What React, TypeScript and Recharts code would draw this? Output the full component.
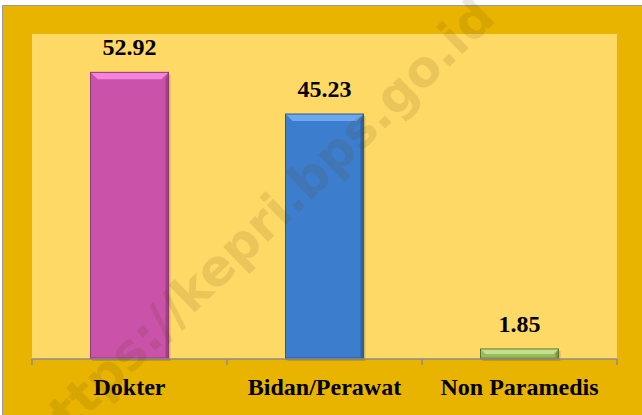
import { BarChart, Bar, XAxis, YAxis, CartesianGrid, Cell, LabelList } from "recharts";

const categories = ["Dokter", "Bidan/Perawat", "Non Paramedis"];
const shares = [52.92, 45.23, 1.85];
const yDomain = [0, 60];

const chartData = categories.map((name, i) => ({ name, value: shares[i] }));

const barColors = [
  { main: "#CB52A9", light: "#F384DC", dark: "#A23F87", edge: "#8E3A78" },
  { main: "#3C7ECD", light: "#6DA8EE", dark: "#2F63A6", edge: "#2C5A93" },
  { main: "#9BBB59", light: "#C3E08A", dark: "#7A9444", edge: "#5F7536" },
];

const serif = "'Liberation Serif', 'Times New Roman', serif";

function BevelBar(props: any) {
  const { x, y, width, height, index } = props;
  const c = barColors[index % barColors.length];
  const b = Math.min(7, height / 2);
  return (
    <g>
      <rect x={x + 2} y={y + 2} width={width} height={height} fill="rgba(0,0,0,0.15)" />
      <rect x={x} y={y} width={width} height={height} fill={c.main} />
      <polygon
        points={`${x},${y} ${x + width},${y} ${x + width - b},${y + b} ${x + b},${y + b}`}
        fill={c.light}
      />
      <polygon
        points={`${x + width},${y} ${x + width},${y + height} ${x + width - 3},${y + height} ${x + width - 3},${y + b}`}
        fill={c.dark}
      />
      <rect x={x} y={y + height - 2} width={width} height={2} fill={c.dark} opacity={0.6} />
      <rect x={x} y={y} width={width} height={height} fill="none" stroke={c.edge} strokeWidth={1} />
    </g>
  );
}

function CategoryTick(props: any) {
  const { x, y, payload, width, visibleTicksCount, index } = props;
  const band = (width ?? 585) / visibleTicksCount;
  return (
    <g>
      <line x1={x - band / 2} x2={x - band / 2} y1={y} y2={y + 6} stroke="#8c8c8c" strokeWidth={1.5} />
      {index === visibleTicksCount - 1 && (
        <line x1={x + band / 2} x2={x + band / 2} y1={y} y2={y + 6} stroke="#8c8c8c" strokeWidth={1.5} />
      )}
      <text x={x} y={y + 36} textAnchor="middle" fontFamily={serif} fontWeight="bold" fontSize={24} fill="#000">
        {payload.value}
      </text>
    </g>
  );
}

export default function App() {
  return (
    <div style={{ position: "relative", width: 642, height: 415, background: "#fff", overflow: "hidden" }}>
      <style>{"body{margin:0}"}</style>
      <div
        style={{
          position: "absolute",
          left: 2,
          top: 5,
          right: 0,
          bottom: 0,
          background: "#E9B400",
          borderTop: "1px solid #9a9a9a",
          borderLeft: "1px solid #9a9a9a",
        }}
      />
      <div style={{ position: "absolute", left: 0, top: 0 }}>
        <BarChart
          width={642}
          height={415}
          data={chartData}
          margin={{ top: 34, right: 25, bottom: 0, left: 32 }}
          barCategoryGap="30%"
        >
          <CartesianGrid horizontal={false} vertical={false} fill="#FFD966" stroke="none" />
          <YAxis hide domain={yDomain} />
          <XAxis
            dataKey="name"
            height={56}
            tickSize={0}
            tickMargin={0}
            tickLine={false}
            axisLine={{ stroke: "#8c8c8c", strokeWidth: 1.5 }}
            tick={<CategoryTick />}
            interval={0}
          />
          <Bar dataKey="value" shape={<BevelBar />} isAnimationActive={false}>
            {chartData.map((d, i) => (
              <Cell key={d.name} fill={barColors[i].main} />
            ))}
            <LabelList
              dataKey="value"
              position="top"
              offset={17}
              formatter={(v: any) => Number(v).toFixed(2)}
              style={{ fontFamily: serif, fontWeight: "bold", fontSize: 24, fill: "#000" }}
            />
          </Bar>
        </BarChart>
      </div>
      <svg width={642} height={415} style={{ position: "absolute", left: 0, top: 0, pointerEvents: "none" }}>
        <text
          x={44}
          y={458}
          transform="rotate(-44 44 458)"
          fontFamily="'DejaVu Sans', sans-serif"
          fontWeight="bold"
          fontSize={50}
          fill="#5a4000"
          opacity={0.12}
        >
          https://kepri.bps.go.id
        </text>
      </svg>
    </div>
  );
}
